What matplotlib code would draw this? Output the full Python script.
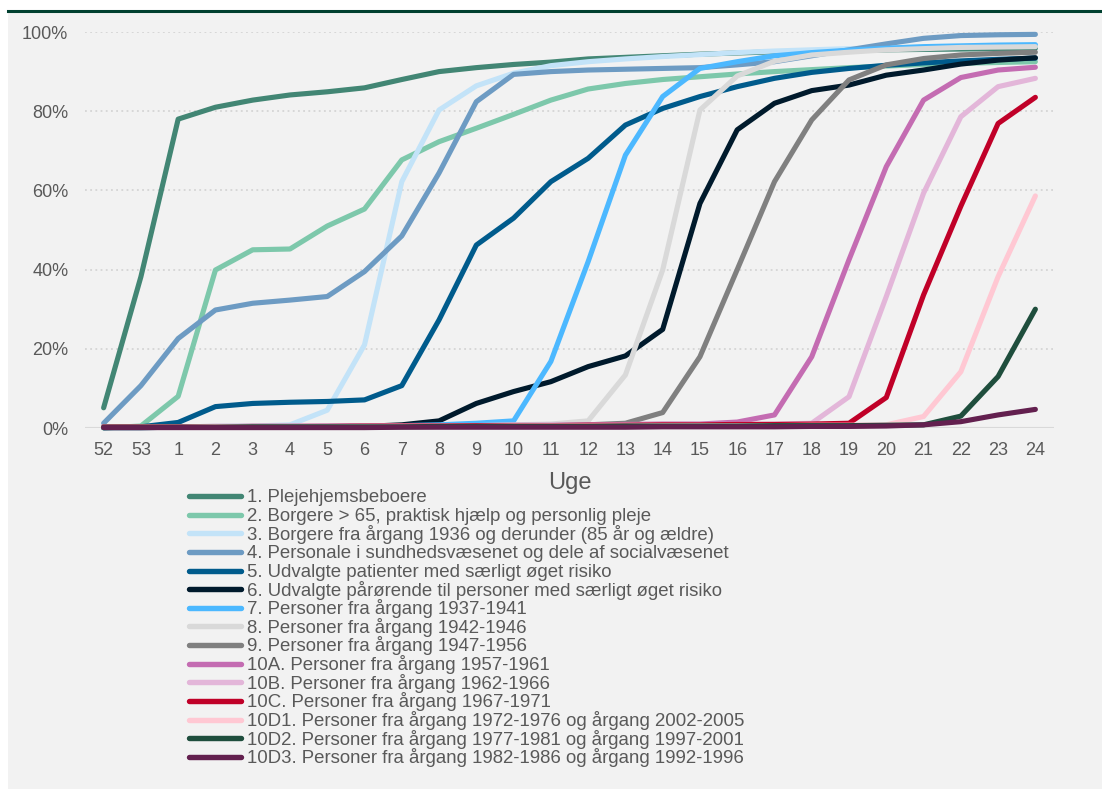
import matplotlib
matplotlib.use("Agg")
import matplotlib.pyplot as plt
from matplotlib.lines import Line2D
from matplotlib.patches import Rectangle
import numpy as np

plt.rcParams['font.family'] = ['Liberation Sans', 'DejaVu Sans']

weeks = ["52", "53", "1", "2", "3", "4", "5", "6", "7", "8", "9", "10", "11", "12",
         "13", "14", "15", "16", "17", "18", "19", "20", "21", "22", "23", "24"]

labels = [
    "1. Plejehjemsbeboere",
    "2. Borgere > 65, praktisk hjælp og personlig pleje",
    "3. Borgere fra årgang 1936 og derunder (85 år og ældre)",
    "4. Personale i sundhedsvæsenet og dele af socialvæsenet",
    "5. Udvalgte patienter med særligt øget risiko",
    "6. Udvalgte pårørende til personer med særligt øget risiko",
    "7. Personer fra årgang 1937-1941",
    "8. Personer fra årgang 1942-1946",
    "9. Personer fra årgang 1947-1956",
    "10A. Personer fra årgang 1957-1961",
    "10B. Personer fra årgang 1962-1966",
    "10C. Personer fra årgang 1967-1971",
    "10D1. Personer fra årgang 1972-1976 og årgang 2002-2005",
    "10D2. Personer fra årgang 1977-1981 og årgang 1997-2001",
    "10D3. Personer fra årgang 1982-1986 og årgang 1992-1996",
]

colors = ["#428674", "#7dc8ab", "#c3e3f8", "#6d9bc3", "#005b8c", "#001a2c",
          "#4cb8ff", "#d9d9d9", "#808080", "#c46cb2", "#e3b6d9", "#c00028",
          "#ffc8d3", "#1f4e3d", "#63204f"]

s1 = [5.1, 38.2, 78.0, 81.0, 82.8, 84.1, 84.9, 85.9, 88.0, 90.0, 91.0, 91.8, 92.4,
      93.2, 93.6, 94.0, 94.4, 94.7, 95.0, 95.2, 95.4, 95.5, 95.6, 95.7, 95.8, 95.9]
s2 = [0.0, 0.5, 8.0, 39.9, 45.0, 45.2, 51.0, 55.3, 67.7, 72.3, 75.7, 79.2, 82.8,
      85.6, 87.0, 88.0, 88.7, 89.4, 90.0, 90.5, 91.0, 91.4, 91.8, 92.1, 92.3, 92.5]
s3 = [0.3, 0.3, 0.3, 0.4, 0.5, 0.8, 4.5, 21.0, 62.2, 80.3, 86.4, 89.6, 91.5,
      92.5, 93.2, 93.8, 94.3, 94.8, 95.2, 95.5, 95.8, 96.0, 96.2, 96.3, 96.4, 96.5]
s4 = [1.2, 10.7, 22.6, 29.8, 31.5, 32.3, 33.2, 39.5, 48.5, 64.4, 82.4, 89.3, 90.0,
      90.4, 90.6, 90.8, 91.0, 91.7, 92.5, 94.0, 95.5, 97.0, 98.4, 99.1, 99.3, 99.4]
s5 = [0.1, 0.3, 1.4, 5.4, 6.2, 6.5, 6.7, 7.1, 10.7, 27.3, 46.2, 53.0, 62.2,
      68.1, 76.5, 80.7, 83.7, 86.2, 88.3, 89.8, 90.8, 91.6, 92.2, 92.7, 93.1, 93.4]
s6 = [0.1, 0.1, 0.2, 0.2, 0.2, 0.3, 0.3, 0.4, 0.8, 1.8, 6.2, 9.2, 11.7,
      15.5, 18.2, 24.9, 56.7, 75.3, 82.0, 85.2, 86.6, 89.1, 90.4, 91.9, 92.9, 93.5]
s7 = [0.1, 0.1, 0.2, 0.2, 0.3, 0.3, 0.4, 0.5, 0.6, 0.8, 1.2, 1.8, 16.8,
      42.0, 68.9, 83.7, 90.8, 92.5, 94.0, 94.8, 95.4, 95.9, 96.3, 96.5, 96.7, 96.8]
s8 = [0.2, 0.2, 0.2, 0.3, 0.3, 0.3, 0.4, 0.4, 0.5, 0.5, 0.6, 0.8, 1.0,
      1.8, 13.4, 39.9, 80.3, 88.9, 92.6, 94.2, 94.9, 95.5, 95.8, 96.1, 96.2, 96.3]
s9 = [0.1, 0.1, 0.2, 0.2, 0.2, 0.3, 0.3, 0.3, 0.4, 0.4, 0.5, 0.5, 0.6,
      0.8, 1.2, 3.9, 18.0, 40.0, 62.2, 77.8, 87.9, 91.7, 93.3, 94.2, 94.6, 94.9]
s10a = [0.3, 0.3, 0.3, 0.4, 0.4, 0.4, 0.5, 0.5, 0.5, 0.6, 0.6, 0.7, 0.7,
        0.8, 0.9, 1.0, 1.0, 1.5, 3.3, 18.0, 42.5, 66.0, 82.8, 88.5, 90.4, 91.1]
s10b = [0.3, 0.3, 0.3, 0.4, 0.4, 0.4, 0.5, 0.5, 0.5, 0.6, 0.6, 0.6, 0.7,
        0.7, 0.8, 0.8, 0.9, 0.9, 1.0, 1.2, 7.9, 33.2, 59.3, 78.6, 86.2, 88.3]
s10c = [0.3, 0.3, 0.3, 0.3, 0.4, 0.4, 0.4, 0.5, 0.5, 0.5, 0.6, 0.6, 0.6,
        0.7, 0.7, 0.8, 0.8, 0.9, 0.9, 1.0, 1.2, 7.7, 33.6, 56.0, 76.9, 83.5]
s10d1 = [0.2, 0.2, 0.2, 0.3, 0.3, 0.3, 0.3, 0.4, 0.4, 0.4, 0.4, 0.5, 0.5,
         0.5, 0.5, 0.6, 0.6, 0.6, 0.6, 0.7, 0.7, 0.8, 2.9, 14.2, 38.2, 58.6]
s10d2 = [0.2, 0.2, 0.2, 0.2, 0.3, 0.3, 0.3, 0.3, 0.3, 0.4, 0.4, 0.4, 0.4,
         0.4, 0.5, 0.5, 0.5, 0.5, 0.6, 0.6, 0.6, 0.7, 0.8, 3.0, 13.0, 30.0]
s10d3 = [0.1, 0.1, 0.1, 0.1, 0.1, 0.1, 0.1, 0.1, 0.2, 0.2, 0.2, 0.2, 0.2,
         0.2, 0.2, 0.3, 0.3, 0.3, 0.3, 0.4, 0.4, 0.5, 0.8, 1.6, 3.3, 4.7]

series = [s1, s2, s3, s4, s5, s6, s7, s8, s9, s10a, s10b, s10c, s10d1, s10d2, s10d3]

W, H = 1102, 789
fig = plt.figure(figsize=(W / 100, H / 100), dpi=100, facecolor="white")

# grey panel and top rule
fig.add_artist(Rectangle((8 / W, 0), 1 - 8 / W, 1 - 12 / H, transform=fig.transFigure,
                         facecolor="#f2f2f2", edgecolor="none", zorder=0))
fig.add_artist(Line2D([8 / W, 1], [1 - 11 / H, 1 - 11 / H], transform=fig.transFigure,
                      color="#00402f", lw=2.2, zorder=1))

ax_l, ax_r, ax_t, ax_b = 85, 1054, 32, 428
ax = fig.add_axes([ax_l / W, 1 - ax_b / H, (ax_r - ax_l) / W, (ax_b - ax_t) / H])
ax.set_facecolor("none")

x = np.arange(len(weeks))
for vals, col in zip(series, colors):
    ax.plot(x, np.array(vals) / 100.0, color=col, lw=3.7, solid_capstyle="round",
            solid_joinstyle="round", clip_on=False, zorder=3)

ax.set_xlim(-0.5, len(weeks) - 0.5)
ax.set_ylim(0, 1.0)
ax.set_xticks(x)
ax.set_xticklabels(weeks)
yt = [0, 0.2, 0.4, 0.6, 0.8, 1.0]
ax.set_yticks(yt)
ax.set_yticklabels([f"{int(round(v * 100))}%" for v in yt])
for v in yt[1:]:
    ax.axhline(v, color="#d0d0d0", lw=1.1, ls=(0, (1.2, 2.2)), zorder=1)
ax.axhline(0, color="#d9d9d9", lw=1.5, zorder=1)
for s in ax.spines.values():
    s.set_visible(False)
ax.tick_params(axis="both", length=0, labelsize=13, colors="#595959")
ax.tick_params(axis="y", pad=12)
ax.tick_params(axis="x", pad=10)

fig.text((ax_l + ax_r) / 2 / W, 1 - 483 / H, "Uge", ha="center", va="center",
         fontsize=17, color="#595959")

# legend
y0, dy = 496, 18.64
for i, (lab, col) in enumerate(zip(labels, colors)):
    yl = y0 + i * dy
    yy = 1 - yl / H
    fig.add_artist(Line2D([189 / W, 241 / W], [yy, yy], transform=fig.transFigure,
                          color=col, lw=3.9, solid_capstyle="round"))
    fig.text(247 / W, 1 - (yl + 6.3) / H, lab, ha="left", va="baseline",
             fontsize=13.45, color="#595959")

fig.savefig("out.png", dpi=100, facecolor=fig.get_facecolor())
